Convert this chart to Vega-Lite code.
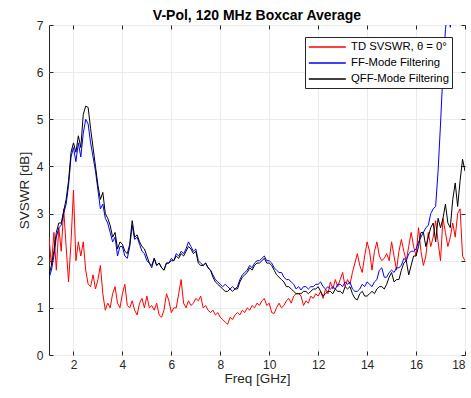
{
"$schema": "https://vega.github.io/schema/vega-lite/v6.json",
"width": 416, "height": 330,
"autosize": {"type": "none"},
"padding": {"left": 49, "top": 25, "right": 6, "bottom": 43},
"background": "white",
"title": {"text": "V-Pol, 120 MHz Boxcar Average", "font": "Liberation Sans", "fontSize": 14, "fontWeight": "bold", "color": "#000000", "offset": -4},
"config": {
  "view": {"stroke": "#262626", "strokeWidth": 1},
  "axis": {"labelFont": "Liberation Sans", "labelFontSize": 12, "labelColor": "#262626", "titleFont": "Liberation Sans", "titleFontSize": 13.5, "titleFontWeight": "normal", "titleColor": "#262626", "gridColor": "#ebebeb", "tickColor": "#262626", "tickSize": -4, "domain": false, "labelPadding": 8}
},
"data": {"values": [
{"f":1.0,"td":2.5,"ff":1.63,"qff":1.7},
{"f":1.1,"td":1.9,"ff":1.8,"qff":1.9},
{"f":1.2,"td":2.6,"ff":2.1,"qff":2.2},
{"f":1.3,"td":1.8,"ff":2.5,"qff":2.6},
{"f":1.4,"td":2.7,"ff":2.7,"qff":2.8},
{"f":1.5,"td":2.2,"ff":2.75,"qff":2.8},
{"f":1.6,"td":3.1,"ff":3.0,"qff":3.05},
{"f":1.7,"td":2.3,"ff":3.2,"qff":3.3},
{"f":1.8,"td":1.55,"ff":3.6,"qff":3.7},
{"f":1.9,"td":2.4,"ff":4.2,"qff":4.3},
{"f":2.0,"td":3.5,"ff":4.4,"qff":4.5},
{"f":2.1,"td":2.0,"ff":4.1,"qff":4.3},
{"f":2.2,"td":2.4,"ff":4.5,"qff":4.65},
{"f":2.3,"td":2.1,"ff":4.2,"qff":4.4},
{"f":2.4,"td":2.4,"ff":4.7,"qff":5.1},
{"f":2.5,"td":1.8,"ff":5.0,"qff":5.28},
{"f":2.6,"td":1.5,"ff":4.9,"qff":5.25},
{"f":2.7,"td":1.45,"ff":4.5,"qff":4.8},
{"f":2.8,"td":1.7,"ff":4.2,"qff":4.4},
{"f":2.9,"td":1.4,"ff":3.9,"qff":4.0},
{"f":3.0,"td":1.6,"ff":3.5,"qff":3.6},
{"f":3.1,"td":1.9,"ff":3.1,"qff":3.3},
{"f":3.2,"td":1.3,"ff":3.2,"qff":3.45},
{"f":3.3,"td":0.95,"ff":2.9,"qff":3.0},
{"f":3.4,"td":1.1,"ff":2.8,"qff":2.9},
{"f":3.5,"td":1.0,"ff":2.6,"qff":2.75},
{"f":3.6,"td":1.3,"ff":2.4,"qff":2.5},
{"f":3.7,"td":1.45,"ff":2.5,"qff":2.6},
{"f":3.8,"td":1.1,"ff":2.1,"qff":2.25},
{"f":3.9,"td":1.0,"ff":2.3,"qff":2.4},
{"f":4.0,"td":1.3,"ff":2.3,"qff":2.35},
{"f":4.1,"td":1.5,"ff":2.1,"qff":2.2},
{"f":4.2,"td":1.05,"ff":2.05,"qff":2.15},
{"f":4.3,"td":1.0,"ff":2.3,"qff":2.35},
{"f":4.4,"td":1.15,"ff":2.75,"qff":2.85},
{"f":4.5,"td":0.95,"ff":2.45,"qff":2.5},
{"f":4.6,"td":0.85,"ff":2.5,"qff":2.55},
{"f":4.7,"td":1.1,"ff":2.35,"qff":2.4},
{"f":4.8,"td":1.2,"ff":2.2,"qff":2.3},
{"f":4.9,"td":1.0,"ff":2.15,"qff":2.25},
{"f":5.0,"td":1.25,"ff":2.0,"qff":2.1},
{"f":5.1,"td":1.0,"ff":1.95,"qff":1.95},
{"f":5.2,"td":1.05,"ff":1.85,"qff":1.9},
{"f":5.3,"td":0.95,"ff":2.05,"qff":2.05},
{"f":5.4,"td":1.1,"ff":1.9,"qff":1.9},
{"f":5.5,"td":0.85,"ff":1.95,"qff":1.95},
{"f":5.6,"td":0.8,"ff":1.85,"qff":1.85},
{"f":5.7,"td":0.95,"ff":1.8,"qff":1.8},
{"f":5.8,"td":1.3,"ff":1.95,"qff":1.95},
{"f":5.9,"td":1.15,"ff":1.95,"qff":1.95},
{"f":6.0,"td":0.9,"ff":2.05,"qff":2.0},
{"f":6.1,"td":1.0,"ff":2.0,"qff":2.0},
{"f":6.2,"td":1.0,"ff":2.15,"qff":2.1},
{"f":6.3,"td":1.3,"ff":2.1,"qff":2.05},
{"f":6.4,"td":1.6,"ff":2.2,"qff":2.15},
{"f":6.5,"td":1.1,"ff":2.15,"qff":2.1},
{"f":6.6,"td":1.0,"ff":2.25,"qff":2.2},
{"f":6.7,"td":1.15,"ff":2.4,"qff":2.3},
{"f":6.8,"td":1.05,"ff":2.3,"qff":2.25},
{"f":6.9,"td":1.1,"ff":2.2,"qff":2.15},
{"f":7.0,"td":1.2,"ff":2.25,"qff":2.2},
{"f":7.1,"td":1.15,"ff":2.0,"qff":1.95},
{"f":7.2,"td":1.25,"ff":1.95,"qff":1.9},
{"f":7.3,"td":1.0,"ff":1.9,"qff":1.9},
{"f":7.4,"td":1.05,"ff":1.95,"qff":1.95},
{"f":7.5,"td":0.95,"ff":1.85,"qff":1.85},
{"f":7.6,"td":0.9,"ff":1.8,"qff":1.8},
{"f":7.7,"td":0.95,"ff":1.7,"qff":1.65},
{"f":7.8,"td":0.85,"ff":1.6,"qff":1.55},
{"f":7.9,"td":0.9,"ff":1.55,"qff":1.5},
{"f":8.0,"td":0.8,"ff":1.5,"qff":1.45},
{"f":8.1,"td":0.75,"ff":1.45,"qff":1.4},
{"f":8.2,"td":0.7,"ff":1.5,"qff":1.35},
{"f":8.3,"td":0.65,"ff":1.45,"qff":1.35},
{"f":8.4,"td":0.8,"ff":1.4,"qff":1.4},
{"f":8.5,"td":0.75,"ff":1.45,"qff":1.35},
{"f":8.6,"td":0.85,"ff":1.4,"qff":1.4},
{"f":8.7,"td":0.9,"ff":1.45,"qff":1.4},
{"f":8.8,"td":0.85,"ff":1.6,"qff":1.55},
{"f":8.9,"td":0.95,"ff":1.7,"qff":1.65},
{"f":9.0,"td":0.9,"ff":1.75,"qff":1.7},
{"f":9.1,"td":1.0,"ff":1.8,"qff":1.75},
{"f":9.2,"td":0.95,"ff":1.9,"qff":1.85},
{"f":9.3,"td":1.05,"ff":1.85,"qff":1.8},
{"f":9.4,"td":1.0,"ff":1.95,"qff":1.9},
{"f":9.5,"td":1.1,"ff":2.0,"qff":1.95},
{"f":9.6,"td":1.05,"ff":2.0,"qff":1.95},
{"f":9.7,"td":1.15,"ff":2.05,"qff":2.0},
{"f":9.8,"td":1.2,"ff":2.1,"qff":2.05},
{"f":9.9,"td":1.05,"ff":2.0,"qff":1.95},
{"f":10.0,"td":1.1,"ff":2.0,"qff":1.95},
{"f":10.1,"td":0.9,"ff":1.95,"qff":1.9},
{"f":10.2,"td":0.88,"ff":1.85,"qff":1.8},
{"f":10.3,"td":1.0,"ff":1.8,"qff":1.7},
{"f":10.4,"td":1.1,"ff":1.75,"qff":1.65},
{"f":10.5,"td":1.0,"ff":1.75,"qff":1.6},
{"f":10.6,"td":1.05,"ff":1.65,"qff":1.55},
{"f":10.7,"td":1.15,"ff":1.6,"qff":1.45},
{"f":10.8,"td":1.2,"ff":1.6,"qff":1.45},
{"f":10.9,"td":1.1,"ff":1.55,"qff":1.4},
{"f":11.0,"td":1.25,"ff":1.5,"qff":1.35},
{"f":11.1,"td":1.3,"ff":1.4,"qff":1.3},
{"f":11.2,"td":1.3,"ff":1.45,"qff":1.3},
{"f":11.3,"td":1.25,"ff":1.38,"qff":1.3},
{"f":11.4,"td":1.05,"ff":1.45,"qff":1.35},
{"f":11.5,"td":1.15,"ff":1.45,"qff":1.35},
{"f":11.6,"td":1.1,"ff":1.4,"qff":1.3},
{"f":11.7,"td":1.25,"ff":1.45,"qff":1.35},
{"f":11.8,"td":1.2,"ff":1.45,"qff":1.4},
{"f":11.9,"td":1.3,"ff":1.5,"qff":1.4},
{"f":12.0,"td":1.25,"ff":1.5,"qff":1.45},
{"f":12.1,"td":1.35,"ff":1.55,"qff":1.35},
{"f":12.2,"td":1.2,"ff":1.45,"qff":1.25},
{"f":12.3,"td":1.4,"ff":1.4,"qff":1.3},
{"f":12.4,"td":1.3,"ff":1.45,"qff":1.35},
{"f":12.5,"td":1.55,"ff":1.4,"qff":1.35},
{"f":12.6,"td":1.4,"ff":1.45,"qff":1.3},
{"f":12.7,"td":1.6,"ff":1.4,"qff":1.4},
{"f":12.8,"td":1.45,"ff":1.5,"qff":1.35},
{"f":12.9,"td":1.6,"ff":1.5,"qff":1.35},
{"f":13.0,"td":1.75,"ff":1.45,"qff":1.3},
{"f":13.1,"td":1.45,"ff":1.55,"qff":1.45},
{"f":13.2,"td":1.6,"ff":1.5,"qff":1.4},
{"f":13.3,"td":1.5,"ff":1.55,"qff":1.45},
{"f":13.4,"td":1.75,"ff":1.4,"qff":1.3},
{"f":13.5,"td":1.95,"ff":1.35,"qff":1.2},
{"f":13.6,"td":2.15,"ff":1.35,"qff":1.17},
{"f":13.7,"td":1.9,"ff":1.4,"qff":1.3},
{"f":13.8,"td":1.75,"ff":1.5,"qff":1.35},
{"f":13.9,"td":2.1,"ff":1.45,"qff":1.25},
{"f":14.0,"td":2.4,"ff":1.55,"qff":1.25},
{"f":14.1,"td":2.2,"ff":1.5,"qff":1.3},
{"f":14.2,"td":1.8,"ff":1.45,"qff":1.35},
{"f":14.3,"td":2.2,"ff":1.55,"qff":1.3},
{"f":14.4,"td":2.4,"ff":1.6,"qff":1.4},
{"f":14.5,"td":2.1,"ff":1.8,"qff":1.45},
{"f":14.6,"td":2.0,"ff":1.85,"qff":1.45},
{"f":14.7,"td":2.05,"ff":1.65,"qff":1.4},
{"f":14.8,"td":2.15,"ff":1.65,"qff":1.5},
{"f":14.9,"td":2.0,"ff":1.75,"qff":1.65},
{"f":15.0,"td":2.4,"ff":1.8,"qff":1.75},
{"f":15.1,"td":2.1,"ff":1.75,"qff":1.55},
{"f":15.2,"td":1.8,"ff":1.85,"qff":1.6},
{"f":15.3,"td":2.2,"ff":1.85,"qff":1.6},
{"f":15.4,"td":2.45,"ff":1.9,"qff":1.8},
{"f":15.5,"td":2.2,"ff":2.05,"qff":1.95},
{"f":15.6,"td":2.0,"ff":2.0,"qff":2.0},
{"f":15.7,"td":2.3,"ff":2.15,"qff":1.7},
{"f":15.8,"td":2.6,"ff":2.2,"qff":1.9},
{"f":15.9,"td":2.3,"ff":2.2,"qff":2.1},
{"f":16.0,"td":2.1,"ff":2.25,"qff":2.1},
{"f":16.1,"td":2.7,"ff":2.4,"qff":2.3},
{"f":16.2,"td":2.2,"ff":2.5,"qff":2.6},
{"f":16.3,"td":1.9,"ff":2.6,"qff":2.6},
{"f":16.4,"td":2.1,"ff":2.7,"qff":2.3},
{"f":16.5,"td":2.6,"ff":2.75,"qff":2.5},
{"f":16.6,"td":2.3,"ff":3.0,"qff":2.7},
{"f":16.7,"td":2.5,"ff":3.1,"qff":2.8},
{"f":16.8,"td":2.85,"ff":3.15,"qff":2.4},
{"f":16.9,"td":2.4,"ff":3.9,"qff":2.9},
{"f":17.0,"td":2.0,"ff":4.9,"qff":2.7},
{"f":17.1,"td":2.9,"ff":6.0,"qff":2.9},
{"f":17.2,"td":2.6,"ff":6.9,"qff":3.2},
{"f":17.3,"td":2.3,"ff":7.4,"qff":2.8},
{"f":17.4,"td":2.5,"ff":6.95,"qff":2.7},
{"f":17.5,"td":2.8,"ff":7.6,"qff":3.3},
{"f":17.6,"td":2.5,"ff":8.2,"qff":3.65},
{"f":17.7,"td":3.0,"ff":8.8,"qff":3.15},
{"f":17.8,"td":3.1,"ff":9.4,"qff":3.7},
{"f":17.9,"td":2.1,"ff":10.0,"qff":4.15},
{"f":18.0,"td":2.0,"ff":10.5,"qff":3.9}
]},
"transform": [{"fold": ["td", "ff", "qff"], "as": ["series", "v"]}],
"layer": [
  {"mark": {"type": "line", "clip": true, "strokeWidth": 1},
   "encoding": {
     "x": {"field": "f", "type": "quantitative", "scale": {"domain": [1, 18], "nice": false, "zero": false},
           "axis": {"values": [2, 4, 6, 8, 10, 12, 14, 16, 18], "title": "Freq [GHz]", "grid": true, "titlePadding": 1}},
     "y": {"field": "v", "type": "quantitative", "scale": {"domain": [0, 7], "nice": false},
           "axis": {"values": [0, 1, 2, 3, 4, 5, 6, 7], "title": "SVSWR [dB]", "grid": true, "labelPadding": 10, "titlePadding": 5}},
     "color": {"field": "series", "type": "nominal",
               "scale": {"domain": ["td", "ff", "qff"], "range": ["#ff0000", "#0000ff", "#000000"]},
               "legend": {"orient": "none", "legendX": 256, "legendY": 12, "title": null, "symbolType": "M-1,0H5", "symbolSize": 152, "symbolStrokeWidth": 1.5, "labelFont": "Liberation Sans", "labelFontSize": 11.3, "labelColor": "#000000", "strokeColor": "#262626", "fillColor": "white", "padding": 3, "rowPadding": 3, "labelOffset": 29, "cornerRadius": 0,
                          "labelExpr": "datum.label == 'td' ? 'TD SVSWR, θ = 0°' : datum.label == 'ff' ? 'FF-Mode Filtering' : 'QFF-Mode Filtering'"}}
   }},
  {"mark": {"type": "line", "opacity": 0, "clip": true},
   "encoding": {
     "x": {"field": "f", "type": "quantitative", "axis": {"orient": "top", "values": [2, 4, 6, 8, 10, 12, 14, 16, 18], "labels": false, "grid": false, "title": null}},
     "y": {"field": "v", "type": "quantitative", "axis": {"orient": "right", "values": [0, 1, 2, 3, 4, 5, 6, 7], "labels": false, "grid": false, "title": null}}
   }}
],
"resolve": {"axis": {"x": "independent", "y": "independent"}}
}
